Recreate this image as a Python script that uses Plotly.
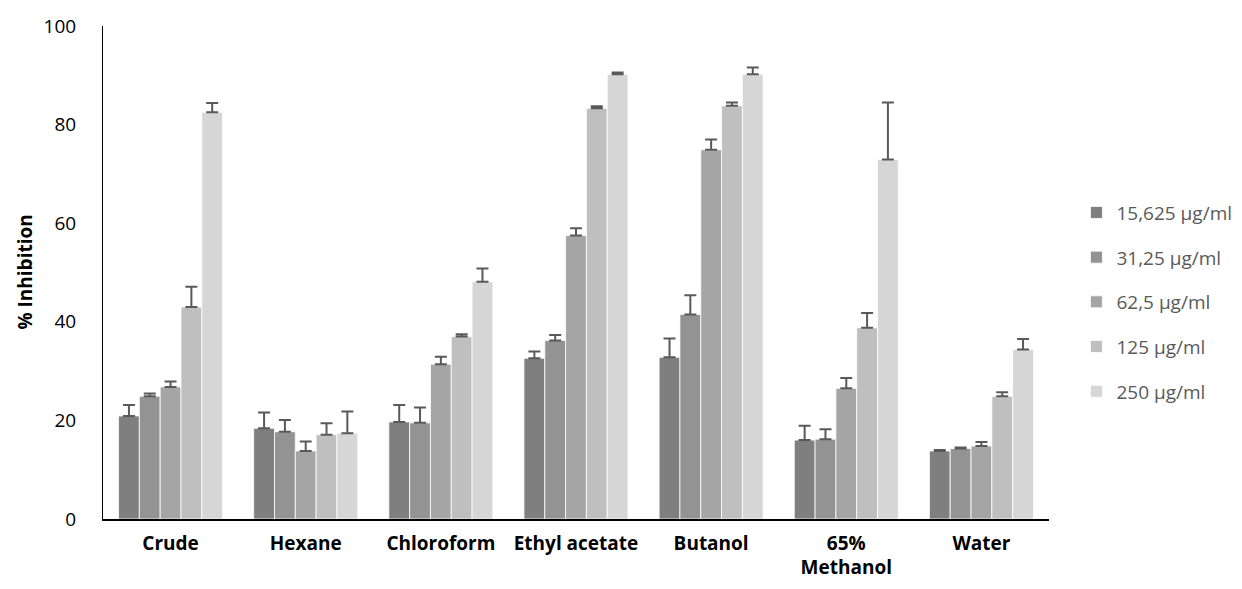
import plotly.graph_objects as go

categories = ["Crude", "Hexane", "Chloroform", "Ethyl acetate", "Butanol", "65%<br>Methanol", "Water"]
series_names = ["15,625 µg/ml", "31,25 µg/ml", "62,5 µg/ml", "125 µg/ml", "250 µg/ml"]

v15 = [20.9, 18.4, 19.7, 32.6, 32.8, 16.0, 13.8]
v31 = [24.9, 17.7, 19.5, 36.2, 41.5, 16.2, 14.3]
v62 = [26.8, 13.8, 31.4, 57.5, 74.9, 26.5, 14.8]
v125 = [43.0, 17.1, 37.0, 83.3, 83.8, 38.8, 24.9]
v250 = [82.5, 17.4, 48.1, 90.2, 90.2, 72.9, 34.4]

e15 = [2.2, 3.2, 3.4, 1.4, 3.8, 2.9, 0.2]
e31 = [0.55, 2.4, 3.1, 1.1, 3.9, 2.0, 0.2]
e62 = [1.1, 1.9, 1.5, 1.5, 2.1, 2.1, 0.8]
e125 = [4.1, 2.3, 0.5, 0.4, 0.7, 3.0, 0.8]
e250 = [1.9, 4.4, 2.7, 0.35, 1.4, 11.6, 2.1]

values = [v15, v31, v62, v125, v250]
errors = [e15, e31, e62, e125, e250]
colors = ["#7f7f7f", "#939393", "#a5a5a5", "#bfbfbf", "#d6d6d6"]

FONT = "Open Sans"

fig = go.Figure()
for i, (name, vals, errs, col) in enumerate(zip(series_names, values, errors, colors)):
    fig.add_trace(go.Bar(
        x=categories, y=vals, name=name,
        legendgroup=f"g{i}",
        marker=dict(color=col, line=dict(color="#ffffff", width=0.8)),
        error_y=dict(type="data", array=errs, arrayminus=[0] * len(errs),
                     symmetric=False, color="#595959", thickness=2, width=6),
    ))

fig.update_layout(
    width=1242, height=589,
    margin=dict(l=103, r=193, t=26, b=70, autoexpand=False),
    paper_bgcolor="white", plot_bgcolor="white",
    barmode="group", bargap=0.23, bargroupgap=0,
    font=dict(family=FONT, size=19, color="#000000"),
    legend=dict(
        x=1.029, xanchor="left", y=0.44, yanchor="middle",
        traceorder="grouped", tracegroupgap=17,
        font=dict(family=FONT, size=19, color="#595959"),
        itemwidth=30,
    ),
    showlegend=True,
)
fig.update_xaxes(
    showline=True, linecolor="#000000", linewidth=1.5,
    ticks="", showgrid=False,
    tickfont=dict(family=FONT, size=19, color="#000000", weight="bold"),
    ticklabelstandoff=6,
)
fig.update_yaxes(
    range=[0, 100], tickvals=[0, 20, 40, 60, 80, 100],
    showline=True, linecolor="#000000", linewidth=1,
    ticks="", showgrid=False, zeroline=False,
    tickfont=dict(family=FONT, size=19, color="#000000"),
    ticklabelstandoff=22,
)
fig.add_annotation(
    text="<b>% Inhibition</b>", textangle=-90,
    xref="paper", yref="paper", x=(24 - 103) / 946, y=0.5,
    xanchor="center", yanchor="middle", showarrow=False,
    font=dict(family=FONT, size=19, color="#000000"),
)

fig.write_html("out.html")
